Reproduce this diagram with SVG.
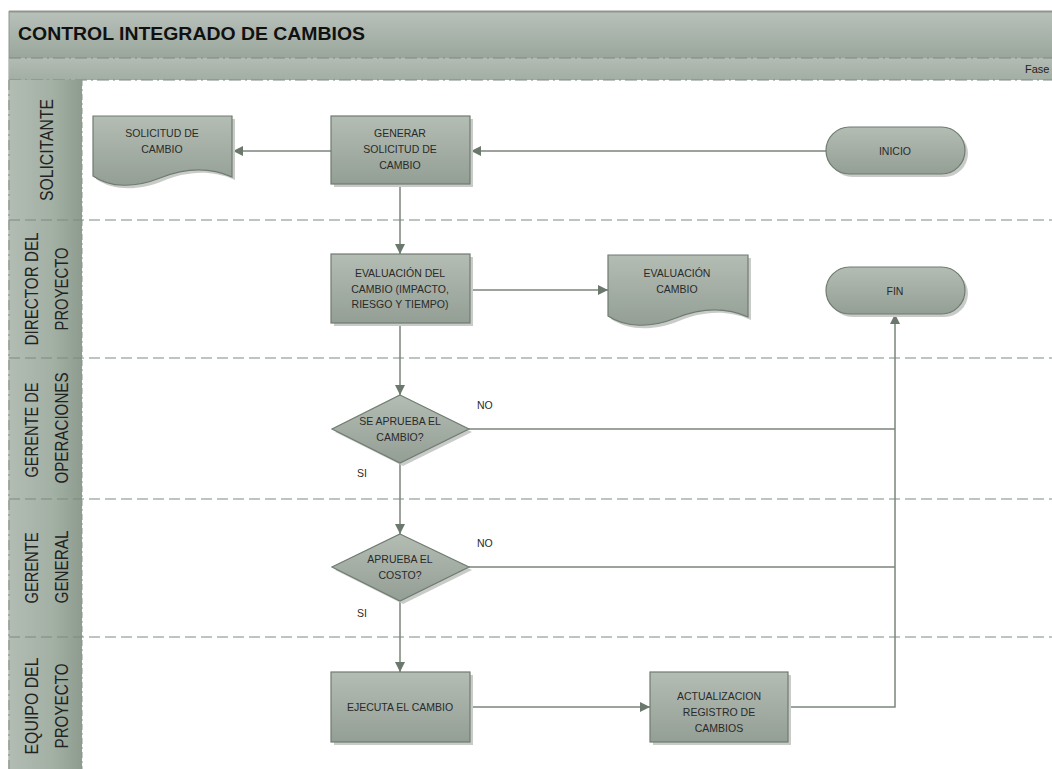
<svg xmlns="http://www.w3.org/2000/svg" width="1052" height="769" viewBox="0 0 1052 769">
<defs>
<linearGradient id="gNode" x1="0" y1="0" x2="0" y2="1">
<stop offset="0" stop-color="#b4bdb4"/>
<stop offset="1" stop-color="#939e94"/>
</linearGradient>
<linearGradient id="gTitle" x1="0" y1="0" x2="0" y2="1">
<stop offset="0" stop-color="#b8c1ba"/>
<stop offset="1" stop-color="#9aa69c"/>
</linearGradient>
<linearGradient id="gFase" x1="0" y1="0" x2="0" y2="1">
<stop offset="0" stop-color="#b3bcb4"/>
<stop offset="1" stop-color="#a2ada3"/>
</linearGradient>
<linearGradient id="gLane" x1="0" y1="0" x2="1" y2="0">
<stop offset="0" stop-color="#b2bcb3"/>
<stop offset="0.6" stop-color="#a3b0a4"/>
<stop offset="1" stop-color="#8e9c90"/>
</linearGradient>
<marker id="arr" viewBox="0 0 10 10" refX="10" refY="5" markerWidth="10" markerHeight="10" markerUnits="userSpaceOnUse" orient="auto">
<path d="M0,0 L10,5 L0,10 Z" fill="#6b786d"/>
</marker>
</defs>
<style>
.node{fill:url(#gNode);stroke:#6f7b71;stroke-width:1.2}
.shadow{fill:#c9cbc9}
.t{font-family:"Liberation Sans",Arial,sans-serif;font-size:10.5px;fill:#2a2a2a;text-anchor:middle}
.lane{font-family:"Liberation Sans",Arial,sans-serif;font-size:18px;fill:#222;text-anchor:middle}
.lbl{font-family:"Liberation Sans",Arial,sans-serif;font-size:10.5px;fill:#2a2a2a}
.conn{fill:none;stroke:#7b857d;stroke-width:1.5}
.sep{stroke:#7f8a81;stroke-width:1.2;stroke-dasharray:11 5;fill:none}
</style>
<rect width="1052" height="769" fill="#ffffff"/>
<g id="header">
<rect x="9" y="11" width="1043" height="47" fill="url(#gTitle)"/>
<line x1="9" y1="11.5" x2="1052" y2="11.5" stroke="#8f9690" stroke-width="2"/>
<line x1="9" y1="11" x2="9" y2="769" stroke="#8f9690" stroke-width="1"/>
<text x="18" y="40" font-family="Liberation Sans,Arial,sans-serif" font-size="18" font-weight="bold" fill="#111" textLength="347" lengthAdjust="spacingAndGlyphs">CONTROL INTEGRADO DE CAMBIOS</text>
<rect x="9" y="58" width="1043" height="22" fill="url(#gFase)"/>
<line x1="9" y1="58" x2="1052" y2="58" stroke="#7e8880" stroke-width="1" stroke-dasharray="12 4 2 4"/>
<line x1="9" y1="80" x2="1052" y2="80" stroke="#7e8880" stroke-width="1.2" stroke-dasharray="12 4 2 4"/>
<text x="1025" y="73" font-family="Liberation Sans,Arial,sans-serif" font-size="11" fill="#222">Fase</text>
</g>
<g id="lanes">
<rect x="9" y="80" width="73" height="689" fill="url(#gLane)"/>
<line x1="82" y1="80" x2="82" y2="769" stroke="#8d978f" stroke-width="1" stroke-dasharray="6 3 2 3"/>
<line x1="9" y1="80" x2="9" y2="769" stroke="#8d978f" stroke-width="1.2" stroke-dasharray="10 4 2 4"/>
<line class="sep" x1="9" y1="220" x2="1052" y2="220"/>
<line class="sep" x1="9" y1="358" x2="1052" y2="358"/>
<line class="sep" x1="9" y1="499" x2="1052" y2="499"/>
<line class="sep" x1="9" y1="637" x2="1052" y2="637"/>
<text class="lane" transform="translate(53,150) rotate(-90)" textLength="102" lengthAdjust="spacingAndGlyphs">SOLICITANTE</text>
<text class="lane" transform="translate(38,289) rotate(-90)" textLength="113" lengthAdjust="spacingAndGlyphs">DIRECTOR DEL</text>
<text class="lane" transform="translate(68,289) rotate(-90)" textLength="83" lengthAdjust="spacingAndGlyphs">PROYECTO</text>
<text class="lane" transform="translate(38,430) rotate(-90)" textLength="95" lengthAdjust="spacingAndGlyphs">GERENTE DE</text>
<text class="lane" transform="translate(68,428) rotate(-90)" textLength="111" lengthAdjust="spacingAndGlyphs">OPERACIONES</text>
<text class="lane" transform="translate(38,568) rotate(-90)" textLength="71" lengthAdjust="spacingAndGlyphs">GERENTE</text>
<text class="lane" transform="translate(68,567) rotate(-90)" textLength="73" lengthAdjust="spacingAndGlyphs">GENERAL</text>
<text class="lane" transform="translate(38,706) rotate(-90)" textLength="97" lengthAdjust="spacingAndGlyphs">EQUIPO DEL</text>
<text class="lane" transform="translate(68,706) rotate(-90)" textLength="85" lengthAdjust="spacingAndGlyphs">PROYECTO</text>
</g>
<g id="connectors">
<line class="conn" x1="826" y1="151" x2="471" y2="151" marker-end="url(#arr)"/>
<line class="conn" x1="331" y1="151" x2="233" y2="151" marker-end="url(#arr)"/>
<line class="conn" x1="400" y1="184" x2="400" y2="254" marker-end="url(#arr)"/>
<line class="conn" x1="470" y1="290" x2="608" y2="290" marker-end="url(#arr)"/>
<line class="conn" x1="400" y1="324" x2="400" y2="395" marker-end="url(#arr)"/>
<line class="conn" x1="400" y1="463" x2="400" y2="534" marker-end="url(#arr)"/>
<line class="conn" x1="400" y1="601" x2="400" y2="672" marker-end="url(#arr)"/>
<line class="conn" x1="470" y1="707" x2="650" y2="707" marker-end="url(#arr)"/>
<polyline class="conn" points="788,707 895,707 895,314" marker-end="url(#arr)"/>
<line class="conn" x1="469" y1="429" x2="895" y2="429"/>
<line class="conn" x1="469" y1="567" x2="895" y2="567"/>
<text class="lbl" x="477" y="409">NO</text>
<text class="lbl" x="477" y="547">NO</text>
<text class="lbl" x="357" y="477">SI</text>
<text class="lbl" x="357" y="617">SI</text>
</g>
<g id="n-solicitud-doc">
<path class="shadow" d="M96,119 H235 V180 C208,168 183,173 163,181 C138,191 113,191 96,179 Z"/>
<path class="node" d="M93,116 H232 V177 C205,165 180,170 160,178 C135,188 110,188 93,176 Z"/>
<text class="t" x="162" y="137">SOLICITUD DE</text>
<text class="t" x="162" y="153">CAMBIO</text>
</g>
<g id="n-generar">
<rect class="shadow" x="334" y="119" width="139" height="68"/>
<rect class="node" x="331" y="116" width="139" height="68"/>
<text class="t" x="400" y="137">GENERAR</text>
<text class="t" x="400" y="153">SOLICITUD DE</text>
<text class="t" x="400" y="169">CAMBIO</text>
</g>
<g id="n-inicio">
<rect class="shadow" x="829" y="130" width="139" height="47" rx="23.5"/>
<rect class="node" x="826" y="127" width="139" height="47" rx="23.5"/>
<text class="t" x="895" y="155">INICIO</text>
</g>
<g id="n-evaluacion">
<rect class="shadow" x="334" y="257" width="139" height="69"/>
<rect class="node" x="331" y="254" width="139" height="69"/>
<text class="t" x="400" y="277">EVALUACIÓN DEL</text>
<text class="t" x="400" y="293">CAMBIO (IMPACTO,</text>
<text class="t" x="400" y="308">RIESGO Y TIEMPO)</text>
</g>
<g id="n-evaluacion-doc">
<path class="shadow" d="M611,258 H751 V320 C724,308 699,313 679,321 C654,331 629,331 611,319 Z"/>
<path class="node" d="M608,255 H748 V317 C721,305 696,310 676,318 C651,328 626,328 608,316 Z"/>
<text class="t" x="677" y="277">EVALUACIÓN</text>
<text class="t" x="677" y="293">CAMBIO</text>
</g>
<g id="n-fin">
<rect class="shadow" x="829" y="270" width="139" height="47" rx="23.5"/>
<rect class="node" x="826" y="267" width="139" height="47" rx="23.5"/>
<text class="t" x="895" y="295">FIN</text>
</g>
<g id="n-decision1">
<polygon class="shadow" points="403,398 472,432 403,466 335,432"/>
<polygon class="node" points="400,395 469,429 400,463 332,429"/>
<text class="t" x="400" y="425">SE APRUEBA EL</text>
<text class="t" x="400" y="441">CAMBIO?</text>
</g>
<g id="n-decision2">
<polygon class="shadow" points="403,537 472,570 403,604 335,570"/>
<polygon class="node" points="400,534 469,567 400,601 332,567"/>
<text class="t" x="400" y="563">APRUEBA EL</text>
<text class="t" x="400" y="579">COSTO?</text>
</g>
<g id="n-ejecuta">
<rect class="shadow" x="334" y="675" width="139" height="70"/>
<rect class="node" x="331" y="672" width="139" height="70"/>
<text class="t" x="400" y="711">EJECUTA EL CAMBIO</text>
</g>
<g id="n-actualizacion">
<rect class="shadow" x="653" y="675" width="138" height="70"/>
<rect class="node" x="650" y="672" width="138" height="70"/>
<text class="t" x="719" y="700">ACTUALIZACION</text>
<text class="t" x="719" y="716">REGISTRO DE</text>
<text class="t" x="719" y="732">CAMBIOS</text>
</g>
</svg>
